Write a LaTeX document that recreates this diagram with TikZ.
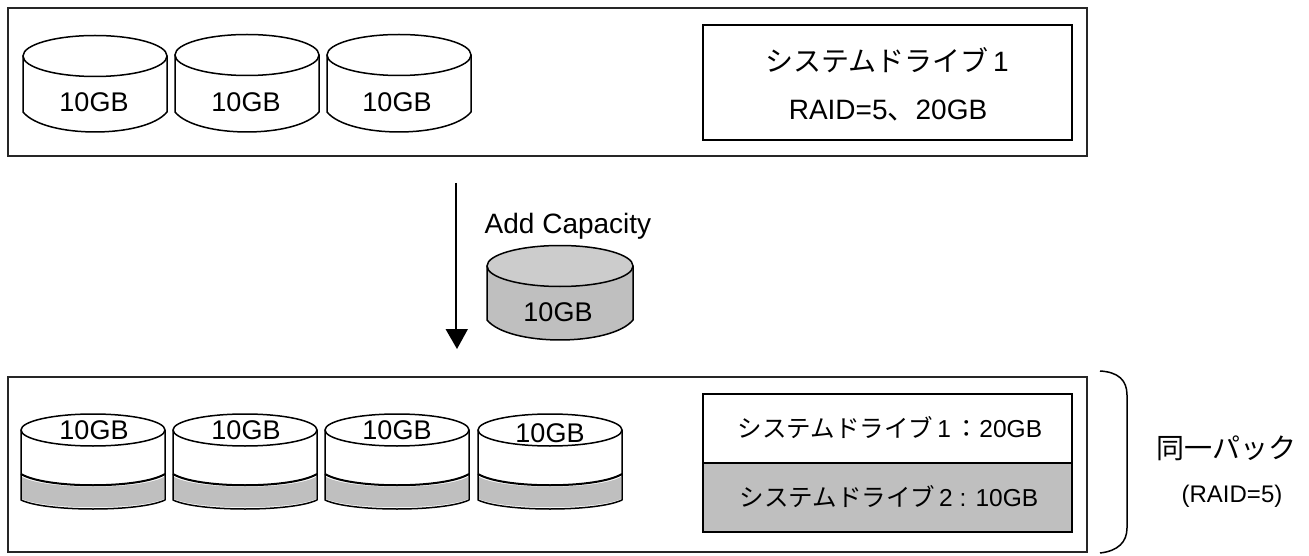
\documentclass[tikz,border=0pt]{standalone}
\usepackage{fontspec}
\setmainfont{Liberation Sans}
\newfontfamily\cjk{Noto Sans CJK JP}
\newcommand{\fs}[1]{\fontsize{#1}{#1}\selectfont}
\colorlet{diskgray}{black!25}
\colorlet{disktop}{black!20}
\tikzset{
  frame/.style={draw=black!85,line width=1.5pt,fill=white},
  wall/.style={draw=black,line width=1.5pt,line join=round},
  lbl/.style={inner sep=0pt,font=\fs{27}},
  lbllarge/.style={inner sep=0pt,font=\fs{28}},
  lblsmall/.style={inner sep=0pt,font=\fs{24.5}},
}
% tall disk: left x, right x, top-ellipse centre y, wall bottom y, ry, fill side, fill top
\newcommand{\disk}[7]{%
  \path[wall,fill=#6] (#1,#3) -- (#1,#4)
     .. controls (#1+22,#4+#5*1.3) and (#2-22,#4+#5*1.3) .. (#2,#4)
     -- (#2,#3) -- cycle;
  \path[wall,fill=#7] ({(#1+#2)/2},#3) ellipse [x radius={(#2-#1)/2},y radius=#5];
}
% bottom-row disk: left x
\newcommand{\lowdisk}[1]{%
  \path[wall,fill=white] (#1,430) -- (#1,500) .. controls (#1+25,512) and (#1+119,512) .. (#1+144,500) -- (#1+144,430) -- cycle;
  \path[fill=diskgray] (#1+1,477) .. controls (#1+25,490) and (#1+119,490) .. (#1+143,477) -- (#1+143,499) .. controls (#1+119,510) and (#1+25,510) .. (#1+1,499) -- cycle;
  \draw[black,line width=2pt] (#1,474) .. controls (#1+25,489) and (#1+119,489) .. (#1+144,474);
  \path[wall,fill=white] (#1+72,430) ellipse [x radius=72,y radius=16];
}
\begin{document}
\begin{tikzpicture}[x=1pt,y=-1pt]
\useasboundingbox (0,0) rectangle (1309,556);
\fill[white] (0,0) rectangle (1309,556);
% top frame
\draw[frame] (8,8) rectangle (1087,156);
\disk{23}{167}{56}{112}{20.5}{white}{white}
\disk{175}{319}{55}{112}{20.5}{white}{white}
\disk{327}{471}{55}{112}{20.5}{white}{white}
\node[lbl] (t1) at (94,102) {10GB};
\node[lbl] (t2) at (246,102) {10GB};
\node[lbl] (t3) at (397,102) {10GB};
\node[draw=black,line width=1.5pt,minimum width=369pt,minimum height=115pt,inner sep=0pt] (sys1) at (887.5,82.5) {};
\node[lbllarge] (sys1a) at (887,60) {\cjk システムドライブ\,\fontspec{Liberation Sans}1};
\node[lbllarge] (sys1b) at (888,111) {RAID=5\cjk 、\fontspec{Liberation Sans}20GB};
% arrow
\coordinate (arrowA) at (456,183);
\coordinate (arrowB) at (456,330);
\draw[line width=1.5pt] (arrowA) -- (arrowB);
\path[fill=black] (445.5,329) -- (468,329) -- (457,349) -- cycle;
\node[lbllarge] (add) at (568,226) {Add Capacity};
\disk{487}{633}{266}{320}{20.5}{diskgray}{disktop}
\node[lbl] (addgb) at (558,312) {10GB};
% bottom frame
\draw[frame] (8,377) rectangle (1087,552);
\lowdisk{21}
\lowdisk{173}
\lowdisk{325}
\lowdisk{478}
\node[lbl] (b1) at (94,430) {10GB};
\node[lbl] (b2) at (246,430) {10GB};
\node[lbl] (b3) at (397,430) {10GB};
\node[lbl] (b4) at (550,433) {10GB};
\node[draw=black,line width=1.5pt,fill=white,minimum width=369pt,minimum height=69pt,inner sep=0pt] (p1) at (887.5,428.5) {};
\node[draw=black,line width=1.5pt,fill=diskgray,minimum width=369pt,minimum height=69pt,inner sep=0pt] (p2) at (887.5,497.5) {};
\node[lblsmall] (p1t) at (890,428) {\cjk システムドライブ\,\fontspec{Liberation Sans}1\,\cjk ：\fontspec{Liberation Sans}20GB};
\node[lblsmall] (p2t) at (889,497) {\cjk システムドライブ\,\fontspec{Liberation Sans}2 : 10GB};
% brace
\draw[line width=1.5pt] (1100,371) .. controls (1118,372) and (1127,380) .. (1127,395) -- (1127,528) .. controls (1127,542) and (1118,551) .. (1100,553);
\node[lbllarge] (same) at (1226,448) {\cjk 同一パック};
\node[lbl,font=\fs{24}] (raid) at (1232,496) {(RAID=5)};
\end{tikzpicture}
\end{document}
